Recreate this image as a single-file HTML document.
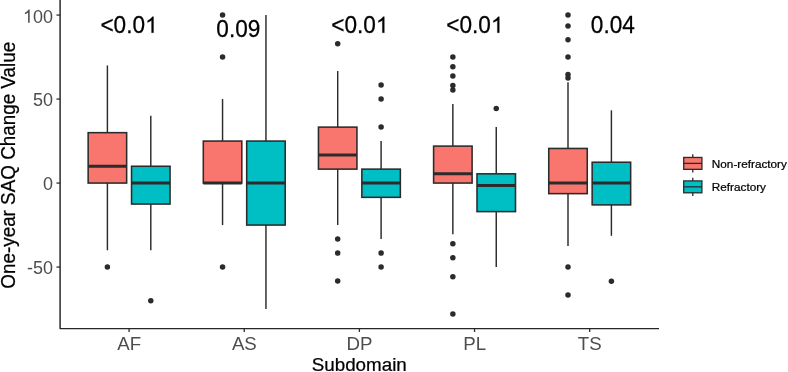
<!DOCTYPE html>
<html><head><meta charset="utf-8"><title>One-year SAQ Change Value by Subdomain</title>
<style>
html,body{margin:0;padding:0;background:#fff;}
body{width:788px;height:372px;position:relative;overflow:hidden;font-family:"Liberation Sans",sans-serif;}
svg text{font-family:"Liberation Sans",sans-serif;}
</style></head><body>
<svg width="788" height="372" viewBox="0 0 788 372" style="position:absolute;left:0;top:0;will-change:transform">
<line x1="107.40" x2="107.40" y1="65.46" y2="132.66" stroke="#2b2b2b" stroke-width="1.45"/>
<line x1="107.40" x2="107.40" y1="183.06" y2="250.26" stroke="#2b2b2b" stroke-width="1.45"/>
<rect x="88.15" y="132.66" width="38.50" height="50.40" fill="#F8766D" stroke="#2b2b2b" stroke-width="1.55"/>
<line x1="88.15" x2="126.65" y1="166.26" y2="166.26" stroke="#2b2b2b" stroke-width="3.0"/>
<circle cx="107.40" cy="267.06" r="2.75" fill="#2b2b2b"/>
<line x1="150.80" x2="150.80" y1="115.86" y2="166.26" stroke="#2b2b2b" stroke-width="1.45"/>
<line x1="150.80" x2="150.80" y1="204.06" y2="250.26" stroke="#2b2b2b" stroke-width="1.45"/>
<rect x="131.55" y="166.26" width="38.50" height="37.80" fill="#00BFC4" stroke="#2b2b2b" stroke-width="1.55"/>
<line x1="131.55" x2="170.05" y1="183.06" y2="183.06" stroke="#2b2b2b" stroke-width="3.0"/>
<circle cx="150.80" cy="300.66" r="2.75" fill="#2b2b2b"/>
<line x1="222.55" x2="222.55" y1="99.06" y2="141.06" stroke="#2b2b2b" stroke-width="1.45"/>
<line x1="222.55" x2="222.55" y1="183.06" y2="225.06" stroke="#2b2b2b" stroke-width="1.45"/>
<rect x="203.30" y="141.06" width="38.50" height="42.00" fill="#F8766D" stroke="#2b2b2b" stroke-width="1.55"/>
<line x1="203.30" x2="241.80" y1="183.06" y2="183.06" stroke="#2b2b2b" stroke-width="3.0"/>
<circle cx="222.55" cy="15.06" r="2.75" fill="#2b2b2b"/>
<circle cx="222.55" cy="57.06" r="2.75" fill="#2b2b2b"/>
<circle cx="222.55" cy="267.06" r="2.75" fill="#2b2b2b"/>
<line x1="265.95" x2="265.95" y1="15.06" y2="141.06" stroke="#2b2b2b" stroke-width="1.45"/>
<line x1="265.95" x2="265.95" y1="225.06" y2="309.06" stroke="#2b2b2b" stroke-width="1.45"/>
<rect x="246.70" y="141.06" width="38.50" height="84.00" fill="#00BFC4" stroke="#2b2b2b" stroke-width="1.55"/>
<line x1="246.70" x2="285.20" y1="183.06" y2="183.06" stroke="#2b2b2b" stroke-width="3.0"/>
<line x1="337.70" x2="337.70" y1="71.00" y2="127.12" stroke="#2b2b2b" stroke-width="1.45"/>
<line x1="337.70" x2="337.70" y1="169.12" y2="225.06" stroke="#2b2b2b" stroke-width="1.45"/>
<rect x="318.45" y="127.12" width="38.50" height="42.00" fill="#F8766D" stroke="#2b2b2b" stroke-width="1.55"/>
<line x1="318.45" x2="356.95" y1="155.00" y2="155.00" stroke="#2b2b2b" stroke-width="3.0"/>
<circle cx="337.70" cy="43.79" r="2.75" fill="#2b2b2b"/>
<circle cx="337.70" cy="239.00" r="2.75" fill="#2b2b2b"/>
<circle cx="337.70" cy="253.12" r="2.75" fill="#2b2b2b"/>
<circle cx="337.70" cy="281.00" r="2.75" fill="#2b2b2b"/>
<line x1="381.10" x2="381.10" y1="141.06" y2="169.12" stroke="#2b2b2b" stroke-width="1.45"/>
<line x1="381.10" x2="381.10" y1="197.34" y2="239.00" stroke="#2b2b2b" stroke-width="1.45"/>
<rect x="361.85" y="169.12" width="38.50" height="28.22" fill="#00BFC4" stroke="#2b2b2b" stroke-width="1.55"/>
<line x1="361.85" x2="400.35" y1="183.06" y2="183.06" stroke="#2b2b2b" stroke-width="3.0"/>
<circle cx="381.10" cy="85.12" r="2.75" fill="#2b2b2b"/>
<circle cx="381.10" cy="99.06" r="2.75" fill="#2b2b2b"/>
<circle cx="381.10" cy="127.12" r="2.75" fill="#2b2b2b"/>
<circle cx="381.10" cy="253.12" r="2.75" fill="#2b2b2b"/>
<circle cx="381.10" cy="267.06" r="2.75" fill="#2b2b2b"/>
<line x1="452.85" x2="452.85" y1="104.10" y2="146.10" stroke="#2b2b2b" stroke-width="1.45"/>
<line x1="452.85" x2="452.85" y1="183.06" y2="234.30" stroke="#2b2b2b" stroke-width="1.45"/>
<rect x="433.60" y="146.10" width="38.50" height="36.96" fill="#F8766D" stroke="#2b2b2b" stroke-width="1.55"/>
<line x1="433.60" x2="472.10" y1="173.82" y2="173.82" stroke="#2b2b2b" stroke-width="3.0"/>
<circle cx="452.85" cy="57.06" r="2.75" fill="#2b2b2b"/>
<circle cx="452.85" cy="66.64" r="2.75" fill="#2b2b2b"/>
<circle cx="452.85" cy="75.88" r="2.75" fill="#2b2b2b"/>
<circle cx="452.85" cy="85.62" r="2.75" fill="#2b2b2b"/>
<circle cx="452.85" cy="89.99" r="2.75" fill="#2b2b2b"/>
<circle cx="452.85" cy="243.71" r="2.75" fill="#2b2b2b"/>
<circle cx="452.85" cy="257.65" r="2.75" fill="#2b2b2b"/>
<circle cx="452.85" cy="276.64" r="2.75" fill="#2b2b2b"/>
<circle cx="452.85" cy="314.10" r="2.75" fill="#2b2b2b"/>
<line x1="496.25" x2="496.25" y1="127.12" y2="173.82" stroke="#2b2b2b" stroke-width="1.45"/>
<line x1="496.25" x2="496.25" y1="211.62" y2="267.06" stroke="#2b2b2b" stroke-width="1.45"/>
<rect x="477.00" y="173.82" width="38.50" height="37.80" fill="#00BFC4" stroke="#2b2b2b" stroke-width="1.55"/>
<line x1="477.00" x2="515.50" y1="185.58" y2="185.58" stroke="#2b2b2b" stroke-width="3.0"/>
<circle cx="496.25" cy="108.47" r="2.75" fill="#2b2b2b"/>
<line x1="568.00" x2="568.00" y1="82.26" y2="148.45" stroke="#2b2b2b" stroke-width="1.45"/>
<line x1="568.00" x2="568.00" y1="193.64" y2="246.06" stroke="#2b2b2b" stroke-width="1.45"/>
<rect x="548.75" y="148.45" width="38.50" height="45.19" fill="#F8766D" stroke="#2b2b2b" stroke-width="1.55"/>
<line x1="548.75" x2="587.25" y1="183.06" y2="183.06" stroke="#2b2b2b" stroke-width="3.0"/>
<circle cx="568.00" cy="15.06" r="2.75" fill="#2b2b2b"/>
<circle cx="568.00" cy="25.98" r="2.75" fill="#2b2b2b"/>
<circle cx="568.00" cy="39.76" r="2.75" fill="#2b2b2b"/>
<circle cx="568.00" cy="57.06" r="2.75" fill="#2b2b2b"/>
<circle cx="568.00" cy="74.53" r="2.75" fill="#2b2b2b"/>
<circle cx="568.00" cy="78.06" r="2.75" fill="#2b2b2b"/>
<circle cx="568.00" cy="267.06" r="2.75" fill="#2b2b2b"/>
<circle cx="568.00" cy="295.12" r="2.75" fill="#2b2b2b"/>
<line x1="611.40" x2="611.40" y1="110.32" y2="162.23" stroke="#2b2b2b" stroke-width="1.45"/>
<line x1="611.40" x2="611.40" y1="204.90" y2="235.81" stroke="#2b2b2b" stroke-width="1.45"/>
<rect x="592.15" y="162.23" width="38.50" height="42.67" fill="#00BFC4" stroke="#2b2b2b" stroke-width="1.55"/>
<line x1="592.15" x2="630.65" y1="183.06" y2="183.06" stroke="#2b2b2b" stroke-width="3.0"/>
<circle cx="611.40" cy="281.34" r="2.75" fill="#2b2b2b"/>
<polyline points="60.1,-1 60.1,328.6 659,328.6" fill="none" stroke="#262626" stroke-width="1.45" stroke-linejoin="round"/>
<line x1="56.5" x2="60.1" y1="15.06" y2="15.06" stroke="#2b2b2b" stroke-width="1.3"/>
<path transform="translate(22.97,22.66) scale(0.00879,0.00892)" d="M763 0H583V-1147Q518 -1085 412.5 -1023T223 -930V-1104Q373 -1174.5 485.5 -1275T644 -1466H763Z" fill="#4d4d4d"/>
<text transform="translate(32.98,22.66) scale(0.9474,1)" font-size="19.0" fill="#4d4d4d">00</text>
<line x1="56.5" x2="60.1" y1="99.06" y2="99.06" stroke="#2b2b2b" stroke-width="1.3"/>
<text transform="translate(32.98,106.46) scale(0.9474,1)" font-size="19.0" fill="#4d4d4d">50</text>
<line x1="56.5" x2="60.1" y1="183.06" y2="183.06" stroke="#2b2b2b" stroke-width="1.3"/>
<text transform="translate(42.99,190.26) scale(0.9474,1)" font-size="19.0" fill="#4d4d4d">0</text>
<line x1="56.5" x2="60.1" y1="267.06" y2="267.06" stroke="#2b2b2b" stroke-width="1.3"/>
<text transform="translate(26.99,274.11) scale(0.9474,1)" font-size="19.0" fill="#4d4d4d">-50</text>
<line x1="129.1" x2="129.1" y1="328.6" y2="332.0" stroke="#2b2b2b" stroke-width="1.3"/>
<text transform="translate(117.25,350.20) scale(0.9791,1)" font-size="19.1" fill="#4d4d4d">AF</text>
<line x1="244.25" x2="244.25" y1="328.6" y2="332.0" stroke="#2b2b2b" stroke-width="1.3"/>
<text transform="translate(231.88,350.20) scale(0.9791,1)" font-size="19.1" fill="#4d4d4d">AS</text>
<line x1="359.4" x2="359.4" y1="328.6" y2="332.0" stroke="#2b2b2b" stroke-width="1.3"/>
<text transform="translate(346.51,350.20) scale(0.9791,1)" font-size="19.1" fill="#4d4d4d">DP</text>
<line x1="474.55" x2="474.55" y1="328.6" y2="332.0" stroke="#2b2b2b" stroke-width="1.3"/>
<text transform="translate(463.21,350.20) scale(0.9791,1)" font-size="19.1" fill="#4d4d4d">PL</text>
<line x1="589.7" x2="589.7" y1="328.6" y2="332.0" stroke="#2b2b2b" stroke-width="1.3"/>
<text transform="translate(577.85,350.20) scale(0.9791,1)" font-size="19.1" fill="#4d4d4d">TS</text>
<text transform="translate(100.38,32.75) scale(0.9679,1)" font-size="23.4" fill="#000" stroke="#000" stroke-width="0.25">&lt;0.0</text>
<path transform="translate(145.10,32.75) scale(0.01106,0.01098)" d="M763 0H583V-1147Q518 -1085 412.5 -1023T223 -930V-1104Q373 -1174.5 485.5 -1275T644 -1466H763Z" fill="#000" stroke="#000" stroke-width="22.6"/>
<text transform="translate(216.32,36.50) scale(0.9679,1)" font-size="23.4" fill="#000" stroke="#000" stroke-width="0.25">0.09</text>
<text transform="translate(331.18,32.75) scale(0.9679,1)" font-size="23.4" fill="#000" stroke="#000" stroke-width="0.25">&lt;0.0</text>
<path transform="translate(375.90,32.75) scale(0.01106,0.01098)" d="M763 0H583V-1147Q518 -1085 412.5 -1023T223 -930V-1104Q373 -1174.5 485.5 -1275T644 -1466H763Z" fill="#000" stroke="#000" stroke-width="22.6"/>
<text transform="translate(446.18,32.75) scale(0.9679,1)" font-size="23.4" fill="#000" stroke="#000" stroke-width="0.25">&lt;0.0</text>
<path transform="translate(490.90,32.75) scale(0.01106,0.01098)" d="M763 0H583V-1147Q518 -1085 412.5 -1023T223 -930V-1104Q373 -1174.5 485.5 -1275T644 -1466H763Z" fill="#000" stroke="#000" stroke-width="22.6"/>
<text transform="translate(590.82,33.00) scale(0.9679,1)" font-size="23.4" fill="#000" stroke="#000" stroke-width="0.25">0.04</text>
<text transform="translate(311.75,370.70) scale(0.9995,1)" font-size="18.8" fill="#000" stroke="#000" stroke-width="0.25">Subdomain</text>
<text transform="translate(15.4,288.64) rotate(-90) scale(0.9382,1)" font-size="20.1" fill="#000" stroke="#000" stroke-width="0.25">One-year SAQ Change Value</text>
<line x1="692.8" x2="692.8" y1="154.20" y2="172.60" stroke="#2b2b2b" stroke-width="1.3"/>
<rect x="683.70" y="157.45" width="18.2" height="11.9" fill="#F8766D" stroke="#2b2b2b" stroke-width="1.3"/>
<line x1="683.70" x2="701.90" y1="163.40" y2="163.40" stroke="#2b2b2b" stroke-width="1.3"/>
<text transform="translate(711.84,167.65) scale(0.9958,1)" font-size="11.8" fill="#000" stroke="#000" stroke-width="0.25">Non-refractory</text>
<line x1="692.8" x2="692.8" y1="177.65" y2="196.05" stroke="#2b2b2b" stroke-width="1.3"/>
<rect x="683.70" y="180.90" width="18.2" height="11.9" fill="#00BFC4" stroke="#2b2b2b" stroke-width="1.3"/>
<line x1="683.70" x2="701.90" y1="186.85" y2="186.85" stroke="#2b2b2b" stroke-width="1.3"/>
<text transform="translate(711.84,191.20) scale(0.9958,1)" font-size="11.8" fill="#000" stroke="#000" stroke-width="0.25">Refractory</text>
</svg>
</body></html>
